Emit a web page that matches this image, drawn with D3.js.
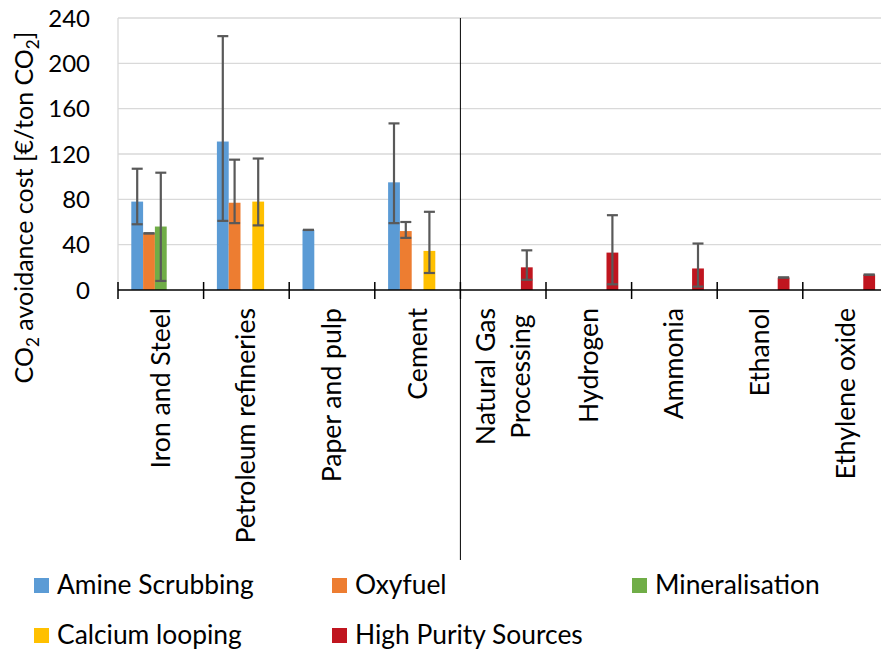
<!DOCTYPE html>
<html>
<head>
<meta charset="utf-8">
<script src="https://cdn.jsdelivr.net/npm/d3@7/dist/d3.min.js"></script>
<style>
html,body{margin:0;padding:0;background:#fff;}
svg{display:block;}
text{font-family:Lato, "Noto Sans", sans-serif;fill:#000;}
</style>
</head>
<body>
<svg id="chart" width="881" height="652"></svg>
<script>
// ---- data ----
const categories = ["Iron and Steel","Petroleum refineries","Paper and pulp","Cement","Natural Gas\nProcessing","Hydrogen","Ammonia","Ethanol","Ethylene oxide"];
const seriesNames = ["Amine Scrubbing","Oxyfuel","Mineralisation","Calcium looping","High Purity Sources"];
const seriesColors = ["#5B9BD5","#ED7D31","#70AD47","#FFC000","#C0151F"];
const amineValues   = [78, 131, 53, 95, null, null, null, null, null];
const amineLow      = [58, 61, 53, 59, null, null, null, null, null];
const amineHigh     = [107, 224, 53, 147, null, null, null, null, null];
const oxyfuelValues = [50, 77, null, 52, null, null, null, null, null];
const oxyfuelLow    = [50, 59, null, 46, null, null, null, null, null];
const oxyfuelHigh   = [50, 115, null, 60, null, null, null, null, null];
const mineralValues = [56, null, null, null, null, null, null, null, null];
const mineralLow    = [8, null, null, null, null, null, null, null, null];
const mineralHigh   = [103.5, null, null, null, null, null, null, null, null];
const calciumValues = [null, 78, null, 34.5, null, null, null, null, null];
const calciumLow    = [null, 57, null, 15, null, null, null, null, null];
const calciumHigh   = [null, 116, null, 69, null, null, null, null, null];
const hpsValues     = [null, null, null, null, 20, 33, 19, 11, 13.5];
const hpsLow        = [null, null, null, null, 9, 5, 3, 11, 13.5];
const hpsHigh       = [null, null, null, null, 35, 66, 41, 11, 13.5];
const yTicks = [0, 40, 80, 120, 160, 200, 240];

const seriesData = [
  {values: amineValues, low: amineLow, high: amineHigh},
  {values: oxyfuelValues, low: oxyfuelLow, high: oxyfuelHigh},
  {values: mineralValues, low: mineralLow, high: mineralHigh},
  {values: calciumValues, low: calciumLow, high: calciumHigh},
  {values: hpsValues, low: hpsLow, high: hpsHigh}
];

// ---- layout ----
const svg = d3.select("#chart");
const W = 881;
const plotLeft = 118, plotTop = 18, plotBottom = 290;
const step = 85.6;
const x0 = d3.scaleBand().domain(categories).range([plotLeft, plotLeft + step * categories.length]).paddingInner(0).paddingOuter(0);
const x1 = d3.scaleBand().domain(seriesNames).range([0, x0.bandwidth()]).paddingInner(0).paddingOuter(1.127);
const y = d3.scaleLinear().domain([0, 240]).range([plotBottom, plotTop]);

// gridlines
svg.append("g").selectAll("line").data(yTicks.filter(d => d > 0)).join("line")
  .attr("x1", plotLeft).attr("x2", W)
  .attr("y1", d => y(d)).attr("y2", d => y(d))
  .attr("stroke", "#D9D9D9").attr("stroke-width", 1.3);
// y axis line (light)
svg.append("line").attr("x1", plotLeft).attr("x2", plotLeft).attr("y1", y(240)).attr("y2", y(0))
  .attr("stroke", "#D9D9D9").attr("stroke-width", 1.3);

// y tick labels
svg.append("g").selectAll("text").data(yTicks).join("text")
  .attr("x", 90).attr("y", d => y(d) + 8.6)
  .attr("text-anchor", "end").attr("font-size", 24)
  .text(d => d);

// bars
const flat = [];
seriesData.forEach((s, si) => {
  categories.forEach((c, ci) => {
    if (s.values[ci] != null) flat.push({c, s: seriesNames[si], color: seriesColors[si], v: s.values[ci], lo: s.low[ci], hi: s.high[ci]});
  });
});
svg.append("g").selectAll("rect").data(flat).join("rect")
  .attr("x", d => x0(d.c) + x1(d.s))
  .attr("width", x1.bandwidth())
  .attr("y", d => y(d.v))
  .attr("height", d => y(0) - y(d.v))
  .attr("fill", d => d.color);

// error bars
const eb = svg.append("g").attr("stroke", "#595959").attr("stroke-width", 2.2);
flat.forEach(d => {
  const cx = x0(d.c) + x1(d.s) + x1.bandwidth() / 2;
  const hw = 5.5;
  if (d.hi !== d.lo) eb.append("line").attr("x1", cx).attr("x2", cx).attr("y1", y(d.hi)).attr("y2", y(d.lo));
  eb.append("line").attr("x1", cx - hw).attr("x2", cx + hw).attr("y1", y(d.hi)).attr("y2", y(d.hi));
  eb.append("line").attr("x1", cx - hw).attr("x2", cx + hw).attr("y1", y(d.lo)).attr("y2", y(d.lo));
});

// x axis
svg.append("line").attr("x1", plotLeft).attr("x2", W).attr("y1", plotBottom).attr("y2", plotBottom)
  .attr("stroke", "#000").attr("stroke-width", 1.5);
const boundaries = categories.map(c => x0(c));
svg.append("g").selectAll("line").data(boundaries).join("line")
  .attr("x1", d => d).attr("x2", d => d).attr("y1", 282).attr("y2", 299)
  .attr("stroke", "#000").attr("stroke-width", 1.5);

// separator line between Cement and Natural Gas
svg.append("line").attr("x1", x0(categories[4])).attr("x2", x0(categories[4]))
  .attr("y1", plotTop).attr("y2", 560).attr("stroke", "#000").attr("stroke-width", 1);

// x labels
const xl = svg.append("g");
categories.forEach(c => {
  const lines = c.split("\n");
  const cx = x0(c) + x0.bandwidth() / 2;
  const g = xl.append("g");
  const texts = lines.map((ln, i) => g.append("text")
    .attr("font-size", 26.6)
    .text(ln));
  const maxLen = d3.max(texts, t => t.node().getComputedTextLength());
  const lh = 35;
  texts.forEach((t, i) => {
    const bx = cx + 9 + (i - (lines.length - 1) / 2) * lh;
    t.attr("text-anchor", "middle")
     .attr("transform", `translate(${bx},${308 + maxLen / 2}) rotate(-90)`);
  });
});

// y axis title
const yt = svg.append("text").attr("transform", "translate(33,207.5) rotate(-90)")
  .attr("text-anchor", "middle").attr("font-size", 25);
yt.append("tspan").text("CO");
yt.append("tspan").attr("font-size", 17).attr("dy", 6).text("2");
yt.append("tspan").attr("dy", -6).text(" avoidance cost [€/ton CO");
yt.append("tspan").attr("font-size", 17).attr("dy", 6).text("2");
yt.append("tspan").attr("dy", -6).text("]");

// legend
const legendPos = [[34, 578], [332, 578], [632, 578], [34, 628], [332, 628]];
const lg = svg.append("g");
seriesNames.forEach((n, i) => {
  const [lx, ly] = legendPos[i];
  lg.append("rect").attr("x", lx).attr("y", ly).attr("width", 15).attr("height", 15).attr("fill", seriesColors[i]);
  lg.append("text").attr("x", lx + 23).attr("y", ly + 15.5).attr("font-size", 26.4).text(n);
});
</script>
</body>
</html>
